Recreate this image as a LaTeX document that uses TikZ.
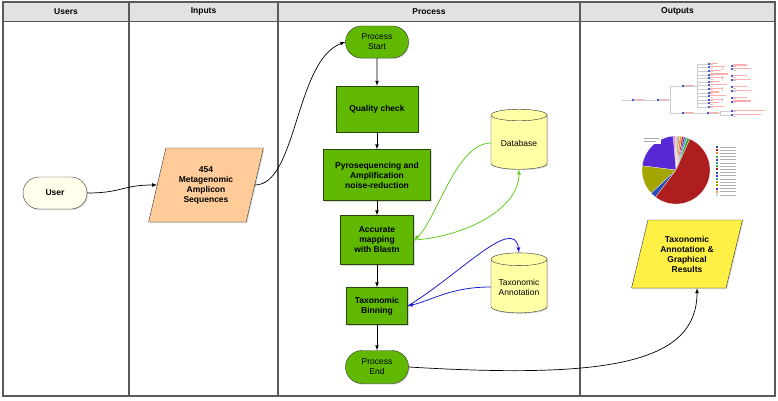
\documentclass[tikz,border=0pt]{standalone}
\usepackage{fontspec}
\setmainfont{Liberation Sans}
\usepackage{tikz}
\usetikzlibrary{shapes.geometric,shapes.misc,shadows,calc}
\definecolor{hdrgray}{RGB}{226,226,226}
\definecolor{usrfill}{RGB}{255,255,236}
\definecolor{inpfill}{RGB}{255,204,153}
\definecolor{procgreen}{RGB}{96,184,0}
\definecolor{procedge}{RGB}{40,70,10}
\definecolor{dbfill}{RGB}{255,255,166}
\definecolor{resfill}{RGB}{255,240,70}
\definecolor{linkgreen}{RGB}{102,204,34}
\definecolor{linkblue}{RGB}{30,30,200}
\definecolor{framegray}{RGB}{90,90,90}
\definecolor{treegray}{RGB}{205,205,205}
\definecolor{treepink}{RGB}{255,175,175}
\definecolor{treeblue}{RGB}{70,90,210}
\definecolor{piered}{RGB}{175,30,30}
\definecolor{piepurple}{RGB}{88,40,214}
\definecolor{pieolive}{RGB}{165,165,0}
\definecolor{pieblue}{RGB}{40,80,180}
\definecolor{piegreen}{RGB}{60,170,60}
\definecolor{pieteal}{RGB}{40,160,160}
\definecolor{pieorange}{RGB}{235,140,60}
\definecolor{pietan}{RGB}{200,170,120}
\definecolor{piepink}{RGB}{230,150,190}
\newcommand{\treenode}[3]{%
	\fill[treeblue] ({#1-1},{#2-0.8}) rectangle ({#1+0.6},{#2+1.2});
	\fill[treepink] ({#1+0.8},{#2+0.2}) rectangle ({#1+0.8+#3},{#2+1.4});
	\fill[treegray] ({#1+0.8},{#2-1.2}) rectangle ({#1+4},{#2-0.2});
}

\begin{document}
\begin{tikzpicture}[x=1pt,y=1pt]%%workflow
		\tikzstyle{lanehead} = [font=\fontsize{8.5}{10}\selectfont\bfseries]
		\tikzstyle{softshadow} = [drop shadow={opacity=0.3, shadow xshift=1pt, shadow yshift=-1pt}]
		\tikzstyle{pill}     = [rounded rectangle, draw=black!80, softshadow, inner sep=1pt, align=center, minimum width=65, minimum height=32, font=\fontsize{8.5}{10}\selectfont]
		\tikzstyle{procbox}  = [rectangle, draw=procedge, fill=procgreen, softshadow, inner sep=1pt, align=center, font=\fontsize{8.5}{10}\selectfont\bfseries]
		\tikzstyle{iobox}    = [trapezium, trapezium left angle=73, trapezium right angle=107, trapezium stretches=true, draw=black!80, softshadow, inner sep=1pt, align=center, font=\fontsize{8.5}{10}\selectfont\bfseries]
		\tikzstyle{store}    = [cylinder, shape border rotate=90, aspect=0.3, draw=black!80, fill=dbfill, softshadow, inner sep=1pt, align=center, minimum width=56, minimum height=60, font=\fontsize{8.5}{10}\selectfont]
		\tikzstyle{flow}     = [-latex, black, line width=0.7]
		\tikzstyle{greenlink} = [-latex, linkgreen, line width=0.8]
		\tikzstyle{bluelink} = [-latex, linkblue, line width=0.8]

		\fill[white] (0,0) rectangle (778,400);
		\useasboundingbox (0,0) rectangle (778,400);

		% lanes
		\fill[hdrgray] (3,379) rectangle (775,398);
		\draw[framegray, line width=1.1] (3,4) rectangle (775,398);
		\draw[framegray, line width=0.8] (3,379) -- (775,379);
		\foreach \x in {129,278,580}
				\draw[framegray, line width=1.1] (\x,4) -- (\x,398);
		\node [lanehead] (husers) at (66,388.5) {Users};
		\node [lanehead] (hinputs) at (203.5,388.5) {Inputs};
		\node [lanehead] (hprocess) at (429,388.5) {Process};
		\node [lanehead] (houtputs) at (677.5,388.5) {Outputs};

		% flow
		\node [pill, fill=usrfill, minimum width=66, font=\fontsize{8.5}{10}\selectfont\bfseries] (user) at (55,207) {User};
		\node [iobox, fill=inpfill, minimum width=115, minimum height=74] (seqs) at (206,215) {454\\Metagenomic\\Amplicon\\Sequences};
		\node [pill, fill=procgreen] (pstart) at (377,358) {Process\\Start};
		\node [procbox, minimum width=82, minimum height=46] (quality) at (377,291) {Quality check};
		\node [procbox, minimum width=107, minimum height=51] (pyro) at (377,225) {Pyrosequencing and\\Amplification\\noise-reduction};
		\node [procbox, minimum width=73, minimum height=49] (mapping) at (377,160) {Accurate\\mapping\\with Blastn};
		\node [procbox, minimum width=61, minimum height=37] (binning) at (377,94) {Taxonomic\\Binning};
		\node [pill, fill=procgreen, minimum height=33] (pend) at (377,33) {Process\\End};
		\node [store] (db) at (519,257) {Database};
		\node [store] (taxdb) at (519,113) {Taxonomic\\Annotation};
		\node [iobox, fill=resfill, minimum width=111, minimum height=68] (results) at (687,146) {Taxonomic\\Annotation \&\\Graphical\\Results};

		\foreach \a/\b in {pstart/quality, quality/pyro, pyro/mapping, mapping/binning, binning/pend}
				\draw [flow] (\a) -- (\b);
		\draw [flow] (user.east) .. controls +(35,0) and +(-35,0) .. (seqs.west);
		\draw [flow] (seqs.east) .. controls +(42,0) and +(-50,-18) .. (pstart.west);
		\draw [greenlink] (db.west) .. controls +(-35,0) and +(22,18) .. (mapping.east);
		\draw [greenlink] (mapping.east) .. controls +(50,3) and +(0,-40) .. (db.south);
		\draw [bluelink] (taxdb.west) .. controls +(-40,0) and +(25,6) .. (binning.east);
		\draw [bluelink] (binning.east) .. controls +(50,30) and +(-5,38) .. (taxdb.north);
		\draw [flow] (pend.east) .. controls +(200,-12) and +(0,-75) .. ([xshift=10]results.south);

		% tree
		\begin{scope}[treegray, line width=0.6]
				\draw (622,300) -- (670,300);
				\draw (670,287) -- (670,314) -- (697,314);
				\draw (670,287) -- (720,287);
				\draw (720,284.5) -- (720,289) -- (732,289);
				\draw (720,284.5) -- (732,284.5);
				\draw (697,292) -- (697,336);
				\foreach \i in {0,...,12}
						\draw (697,{336-3.6*\i}) -- (709,{336-3.6*\i});
				\foreach \i in {1,4,7,10}
						\draw (722,{336-3.6*\i+2}) -- (722,{336-3.6*\i-2});
		\end{scope}
		\treenode{633}{300}{10}
		\treenode{658}{300}{10}
		\treenode{683}{314}{10}
		\treenode{683}{287}{10}
		\treenode{708}{287}{10}
		\treenode{732}{289}{32}
		\treenode{732}{284.5}{28}
		\foreach \i in {0,...,12}
		{
				\treenode{709}{336-3.6*\i}{8+mod(\i*7,11)}
		}
		\foreach \i in {1,4,7,10}
		{
				\treenode{732}{336-3.6*\i+1.8}{14}
				\treenode{732}{336-3.6*\i-1.8}{18}
		}

		% pie
		\coordinate (piec) at (676,230);
		\foreach \a/\b/\c in {66/71/piegreen, 71/74/pieteal, 74/77/piepurple, 77/80/piered, 80/84/pieorange, 84/88/pietan, 88/91/treegray, 91/95/piepink, 95/173/piepurple, 173/223/pieolive, 223/233/pieblue, 233/426/piered}
		{
				\filldraw [fill=\c, draw=white, line width=0.2] (piec) -- ++(\a:34) arc [start angle=\a, end angle=\b, radius=34] -- cycle;
		}
		\fill [white] (643,256) rectangle (661,264);
		\fill [gray!70] (644,261) rectangle (659,262);
		\fill [gray!70] (644,258) rectangle (656,259);
		\foreach \i/\c in {0/pieblue, 1/piered, 2/pieorange, 3/piegreen, 4/piepurple, 5/pieteal, 6/piegreen, 7/piered, 8/pieblue, 9/piepurple, 10/pieteal, 11/pieolive, 12/pieolive, 13/piepurple, 14/pieorange, 15/treegray}
		{
				\fill [\c] (716,{252-3.2*\i}) rectangle (718,{254-3.2*\i});
				\fill [gray!60] (720,{252.5-3.2*\i}) rectangle (736,{253.4-3.2*\i});
		}
\end{tikzpicture}
\end{document}
